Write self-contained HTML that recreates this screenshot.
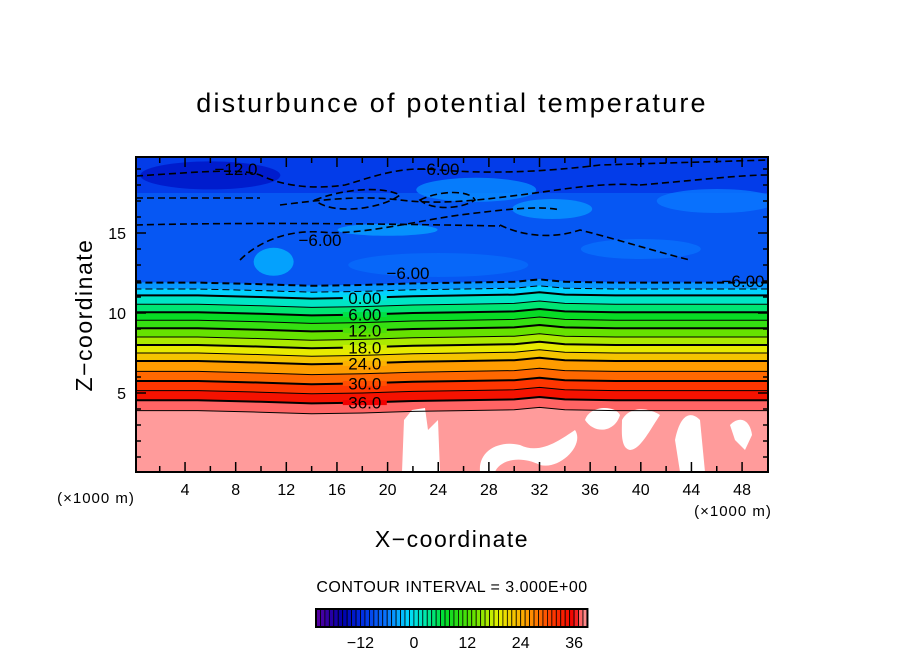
<!DOCTYPE html>
<html><head><meta charset="utf-8"><style>
body{margin:0;background:#fff}
svg{display:block;font-family:"Liberation Sans",sans-serif}
</style></head><body>
<svg id="chart" width="904" height="654" viewBox="0 0 904 654">
<text x="452" y="112" text-anchor="middle" font-size="27" letter-spacing="2.2">disturbunce of potential temperature</text>
<defs><clipPath id="pc"><rect x="136" y="157" width="632" height="315"/></clipPath></defs>
<g id="plot" clip-path="url(#pc)"></g>
<rect x="136" y="157" width="632" height="315" fill="none" stroke="#000" stroke-width="2"/>
<g id="axes"></g>
<text x="96" y="503" text-anchor="middle" font-size="15" letter-spacing="1">(×1000 m)</text>
<text x="733" y="516" text-anchor="middle" font-size="15" letter-spacing="1">(×1000 m)</text>
<text x="452" y="547" text-anchor="middle" font-size="23" letter-spacing="1.5">X−coordinate</text>
<text x="92" y="315" text-anchor="middle" font-size="23" letter-spacing="1.5" transform="rotate(-90 92 315)">Z−coordinate</text>
<text x="452" y="592" text-anchor="middle" font-size="16" letter-spacing="0.5">CONTOUR INTERVAL = 3.000E+00</text>
<g id="cbar"></g>
</svg>
<script>
const levels=[-6,-3,0,3,6,9,12,15,18,21,24,27,30,33,36,39];
const levelZ=[11.9,11.5,11.1,10.55,10.05,9.55,9.05,8.5,8.0,7.5,7.0,6.35,5.75,5.15,4.55,3.9];
const bumpX=[0,5,10,14,18,22,26,30,32,34,38,42,46,50];
const bumpZ=[0,0,-0.1,-0.2,-0.15,-0.05,0,0.05,0.2,0.05,0,0,0,0];
const xTicks=[4,8,12,16,20,24,28,32,36,40,44,48];
const yTicks=[5,10,15];
const cbarTicks=[-12,0,12,24,36];
const lineLabels=[0,6,12,18,24,30,36];
const NS="http://www.w3.org/2000/svg";
const X=x=>134.4+x*12.66, Z=z=>473-z*16;
const CB=v=>316+(v+22)*4.45;
const stops=[[-22,[90,0,160]],[-16,[0,0,170]],[-12,[0,40,225]],[-6,[10,120,255]],[-1,[0,220,255]],[3,[0,235,160]],[7,[0,220,40]],[13,[90,225,0]],[19,[230,240,0]],[25,[255,165,0]],[31,[255,60,0]],[36,[240,0,0]],[37.5,[255,100,100]],[39,[255,155,155]]];
function col(v){if(v<=stops[0][0])return`rgb(${stops[0][1]})`;for(let i=1;i<stops.length;i++){if(v<=stops[i][0]){const a=stops[i-1],b=stops[i],t=(v-a[0])/(b[0]-a[0]);return`rgb(${a[1].map((c,k)=>Math.round(c+(b[1][k]-c)*t))})`;}}return`rgb(${stops[stops.length-1][1]})`;}
function mk(t,a,p){const e=document.createElementNS(NS,t);for(const k in a)e.setAttribute(k,a[k]);(p||document.getElementById('plot')).appendChild(e);return e;}
function linePts(z){return bumpX.map((x,i)=>[X(x),Z(z+bumpZ[i])]);}
let r=mk('rect',{x:136,y:157,width:632,height:200,fill:col(-8.5)});

r=mk('rect',{x:136,y:157,width:632,height:Z(17.5)-157,fill:col(-10.5)});

const blobs=[[6,18.6,70,14,-14],[27,17.7,60,12,-5],[33,16.5,40,10,-4.5],[20,15.2,50,6,-4],[11,13.2,20,14,-3],[46,17,60,12,-6],[40,14,60,10,-6.5],[24,13,90,12,-7]];
blobs.forEach(b=>{const e=mk('ellipse',{cx:X(b[0]),cy:Z(b[1]),rx:b[2],ry:b[3],fill:col(b[4]),opacity:0.8});});
for(let i=0;i<levels.length;i++){
 const top=linePts(levelZ[i]);
 const bot=i+1<levels.length?linePts(levelZ[i+1]):bumpX.map(x=>[X(x),480]);
 const pts=top.concat(bot.slice().reverse()).map(p=>p.join(',')).join(' ');
 const v=i+1<levels.length?(levels[i]+levels[i+1])/2:40;
 const p=mk('polygon',{points:pts,fill:col(v),stroke:col(v),'stroke-width':0.5});
 
}
const whites=["M402,472 L404,420 L412,410 L425,408 L428,430 L438,420 L440,472 Z","M480,472 C478,450 500,440 520,445 C540,455 560,440 575,430 C585,445 560,470 540,465 C520,455 500,460 495,472 Z","M585,420 C590,405 615,405 620,415 C615,432 595,435 585,420 Z","M622,420 C630,405 650,408 660,415 C650,430 640,450 630,450 C620,448 622,430 622,420 Z","M675,440 C680,415 690,410 700,420 L705,472 L680,472 Z","M730,425 C740,415 750,420 752,435 L745,450 L735,440 Z"];
whites.forEach(d=>{const e=mk('path',{d,fill:'#fff'});});
levels.forEach((lv,i)=>{
 const pts=linePts(levelZ[i]).map(p=>p.join(',')).join(' ');
 const a={points:pts,fill:'none',stroke:'#000','stroke-width':lv%6===0?2:1};
 if(lv<0)a['stroke-dasharray']='7,4';
 const e=mk('polyline',a);
 
});
const dashes=["M136,198 L260,198","M136,176 C200,172 240,168 260,175 C280,185 310,190 345,185 C370,178 400,165 440,170 C500,175 560,170 600,165 L768,160","M280,205 C320,200 360,195 400,200 C440,205 480,200 520,195 C560,190 600,182 640,185","M240,260 C260,240 290,230 320,232 C360,236 420,220 460,215 C500,210 540,205 560,210","M500,225 C520,235 550,240 580,230 C620,240 650,250 690,260","M315,200 C340,190 380,185 400,195 C380,210 330,215 315,200 Z","M420,200 C440,190 470,190 475,200 C460,210 430,210 420,200 Z","M640,185 C700,180 740,175 768,175","M136,225 C250,222 400,224 500,226"];
dashes.forEach(d=>{const e=mk('path',{d,fill:'none',stroke:'#000','stroke-width':1.6,'stroke-dasharray':'7,4'});});
function lbl(t,x,y,p,fs){const e=mk('text',{x,y,'font-size':fs||16,'text-anchor':'middle'},p);e.textContent=t;return e;}
lineLabels.forEach(lv=>{const i=levels.indexOf(lv);const ly=Z(levelZ[i]+bumpZ[4]);
 const g=mk('rect',{x:X(18.2)-22,y:ly-2.5,width:44,height:5,fill:col(lv)});
 const t=lv===0?'0.00':lv===6?'6.00':lv.toFixed(1);
 const e=lbl(t,X(18.2),ly+6,null,17);});
[["−12.0",236,175],["−6.00",438,175],["−6.00",320,246],["−6.00",408,279],["−6.00",743,287]].forEach(l=>{const e=lbl(l[0],l[1],l[2],null,17);});
const ax=document.getElementById('axes');
for(let x=2;x<50;x+=2){const L=x%4===0?10:6;
 let e=mk('line',{x1:X(x),x2:X(x),y1:472,y2:472-L,stroke:'#000','stroke-width':1.5},ax);
 e=mk('line',{x1:X(x),x2:X(x),y1:157,y2:157+L,stroke:'#000','stroke-width':1.5},ax);}
xTicks.forEach(x=>{const e=lbl(String(x),X(x),495,ax);});
for(let z=1;z<20;z++){const L=z%5===0?10:5;
 let e=mk('line',{x1:136,x2:136+L,y1:Z(z),y2:Z(z),stroke:'#000','stroke-width':1.5},ax);
 e=mk('line',{x1:768,x2:768-L,y1:Z(z),y2:Z(z),stroke:'#000','stroke-width':1.5},ax);}
yTicks.forEach(z=>{const e=mk('text',{x:126,y:Z(z)+6,'font-size':16,'text-anchor':'end'},ax);e.textContent=z;});
const cb=document.getElementById('cbar');
for(let v=-22;v<39;v++){const e=mk('rect',{x:CB(v),y:609,width:4.45,height:18,fill:col(v+0.5),stroke:'#000','stroke-width':0.8},cb);}
let f=mk('rect',{x:316,y:609,width:CB(39)-316,height:18,fill:'none',stroke:'#000','stroke-width':2},cb);
cbarTicks.forEach(v=>{const e=lbl(v<0?'−'+(-v):String(v),CB(v),648,cb);});
</script>
</body></html>
